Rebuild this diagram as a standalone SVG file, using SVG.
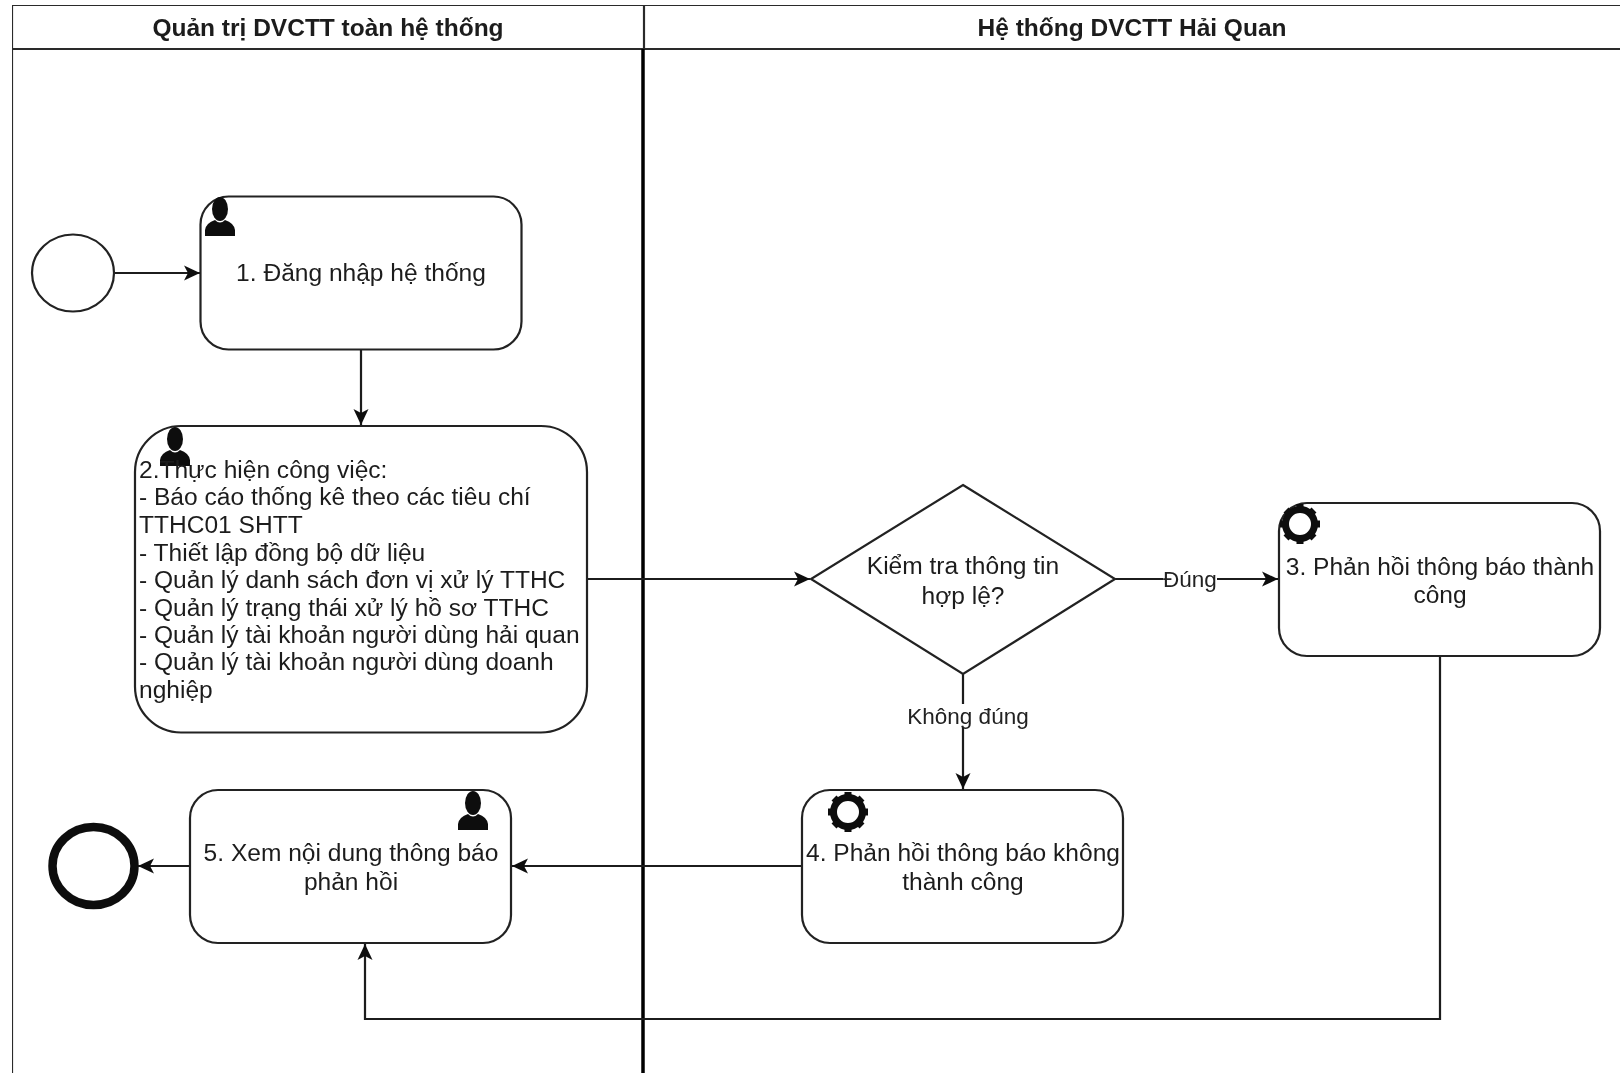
<svg xmlns="http://www.w3.org/2000/svg" width="1620" height="1073" viewBox="0 0 1620 1073">
<style>
text{font-family:"Liberation Sans",Arial,sans-serif;font-size:24.550px;fill:#1c1c1c}
.m{text-anchor:middle}
.h{font-weight:bold;font-size:24.500px}
.l{font-size:22.500px;fill:#222}
.s{fill:#fff;stroke:#222;stroke-width:2.200}
.c{fill:none;stroke:#1c1c1c;stroke-width:2.200;marker-end:url(#a)}
.sw{fill:none;stroke:#2a2a2a;stroke-width:2.200}
.bg{fill:#fff}
</style>
<defs>
<filter id="soft" x="0" y="0" width="100%" height="100%"><feGaussianBlur stdDeviation="0.45"/></filter>
<marker id="a" markerUnits="userSpaceOnUse" markerWidth="20" markerHeight="18" refX="17" refY="9" orient="auto"><path d="M1 1.500 L17 9 L1 16.500 L5 9Z" fill="#111"/></marker>
<g id="user"><ellipse cx="15" cy="12" rx="8" ry="12" fill="#111"/><path d="M0 39 V33 Q1 26 10 23 Q15 28 20 23 Q29 26 30 33 V39Z" fill="#111"/></g>
<g id="gear"><circle cx="20" cy="20" r="14.500" fill="#fff" stroke="#111" stroke-width="7"/><path d="M20 0V7M20 33V40M0 20H7M33 20H40M6 6L10.500 10.500M29.500 29.500L34 34M34 6L29.500 10.500M10.500 29.500L6 34" stroke="#111" stroke-width="7"/></g>
</defs>
<rect class="bg" width="1620" height="1073"/>
<g id="diagram" filter="url(#soft)">
<g id="swimlanes">
<path class="sw" d="M12 1073V5H1620M12 49H1620M644 5V49"/>
<path d="M643 49V1073" stroke="#000" stroke-width="3.500" fill="none"/>
<text class="h m" x="328" y="36">Quản trị DVCTT toàn hệ thống</text>
<text class="h m" x="1132" y="36">Hệ thống DVCTT Hải Quan</text>
</g>
<g id="connectors">
<path class="c" d="M114 273H200"/>
<path class="c" d="M361 350V425"/>
<path class="c" d="M587 579H810"/>
<path class="c" d="M1115 579H1278"/>
<path class="c" d="M963 674V789"/>
<path class="c" d="M802 866H512"/>
<path class="c" d="M190 866H138"/>
<path class="c" d="M1440 656V1019H365V944"/>
</g>
<g id="label-dung"><rect class="bg" x="1163" y="569" width="54" height="24"/><text class="l m" x="1190" y="587">Đúng</text></g>
<g id="label-khong-dung"><rect class="bg" x="907" y="704" width="122" height="23"/><text class="l m" x="968" y="724">Không đúng</text></g>
<g id="start"><ellipse class="s" cx="73" cy="273" rx="41" ry="38.500"/></g>
<g id="end"><ellipse cx="93.500" cy="866" rx="41" ry="39" fill="#fff" stroke="#111" stroke-width="8.500"/></g>
<g id="task1"><rect class="s" x="200.500" y="196.500" width="321" height="153" rx="28" ry="28"/><use href="#user" x="205" y="197"/><text class="m" x="361" y="281">1. Đăng nhập hệ thống</text></g>
<g id="task2"><rect class="s" x="135" y="426" width="452" height="306.500" rx="46" ry="46"/><use href="#user" x="160" y="427"/>
<text x="139" y="478">2.Thực hiện công việc:</text>
<text x="139" y="505">- Báo cáo thống kê theo các tiêu chí</text>
<text x="139" y="533">TTHC01 SHTT</text>
<text x="139" y="561">- Thiết lập đồng bộ dữ liệu</text>
<text x="139" y="588">- Quản lý danh sách đơn vị xử lý TTHC</text>
<text x="139" y="616">- Quản lý trạng thái xử lý hồ sơ TTHC</text>
<text x="139" y="643">- Quản lý tài khoản người dùng hải quan</text>
<text x="139" y="670">- Quản lý tài khoản người dùng doanh</text>
<text x="139" y="698">nghiệp</text></g>
<g id="decision"><path class="s" d="M963 485L1115 579L963 674L811 579Z"/><text class="m" x="963" y="574">Kiểm tra thông tin</text><text class="m" x="963" y="604">hợp lệ?</text></g>
<g id="task3"><rect class="s" x="1279" y="503" width="321" height="153" rx="28" ry="28"/><use href="#gear" x="1280" y="504"/><text class="m" x="1440" y="575">3. Phản hồi thông báo thành</text><text class="m" x="1440" y="603">công</text></g>
<g id="task4"><rect class="s" x="802" y="790" width="321" height="153" rx="28" ry="28"/><use href="#gear" x="828" y="792"/><text class="m" x="963" y="861">4. Phản hồi thông báo không</text><text class="m" x="963" y="890">thành công</text></g>
<g id="task5"><rect class="s" x="190" y="790" width="321" height="153" rx="28" ry="28"/><use href="#user" x="458" y="791"/><text class="m" x="351" y="861">5. Xem nội dung thông báo</text><text class="m" x="351" y="890">phản hồi</text></g>
</g>
</svg>
